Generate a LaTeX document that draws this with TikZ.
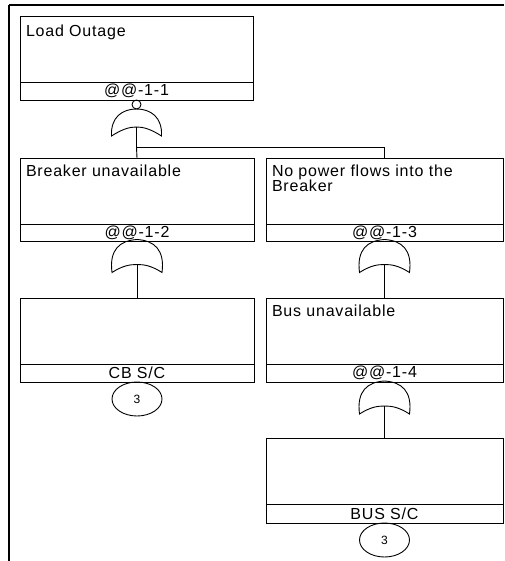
\documentclass[tikz,border=0pt]{standalone}
\usepackage{fontspec}
\setmainfont{Liberation Sans}[LetterSpace=5]
\usetikzlibrary{shapes.geometric}
\begin{document}
\begin{tikzpicture}[x=1pt,y=-1pt,
  every node/.style={inner sep=0pt,outer sep=0pt},
  line/.style={line width=0.9pt},
  evbox/.style={draw,line width=0.9pt,anchor=north west,minimum width=234pt,minimum height=66pt},
  evboxr/.style={evbox,minimum width=237pt},
  strip/.style={draw,line width=0.9pt,anchor=north west,minimum width=234pt,minimum height=18pt,
    font=\fontsize{16}{16}\selectfont},
  stripr/.style={strip,minimum width=237pt},
  desc/.style={anchor=north west,align=left,font=\fontsize{16}{15}\selectfont},
  transfer/.style={draw,ellipse,line width=0.9pt,minimum width=50pt,minimum height=34pt,
    font=\fontsize{12}{12}\selectfont}]
\useasboundingbox (0,0) rectangle (504,561);
% page frame
\draw[line width=2pt] (9,5) -- (504,5);
\draw[line width=1.3pt] (9,5) -- (9,561);

% OR gate symbol, apex at the origin
\tikzset{pics/orgate/.style={code={
  \draw[line width=0.9pt] (-25,33) .. controls (-28,10) and (-17,1) .. (0,0)
     .. controls (17,1) and (28,10) .. (25,33)
     .. controls (14,26) and (7,25) .. (0,25)
     .. controls (-7,25) and (-14,26) .. (-25,33) -- cycle;
  \coordinate (-in) at (0,25);}},
  pics/orgateflat/.style={code={
  \draw[line width=0.9pt] (-25,27) .. controls (-26,8) and (-14,0) .. (0,0)
     .. controls (14,0) and (26,8) .. (25,27)
     .. controls (14,20) and (7,18) .. (0,18)
     .. controls (-7,18) and (-14,20) .. (-25,27) -- cycle;
  \coordinate (-in) at (0,18);}}}

% events
\node[evbox,minimum width=233pt] (e1) at (20,16) {};
\node[strip,minimum width=233pt] (s1) at (20,82) {@@-1-1};
\node[desc] (t1) at (26,24.5) {Load Outage};

\node[evbox] (e2) at (20,158) {};
\node[strip,minimum height=17pt] (s2) at (20,224) {@@-1-2};
\node[desc] (t2) at (26,164.5) {Breaker unavailable};

\node[evboxr] (e3) at (266,158) {};
\node[stripr,minimum height=17pt] (s3) at (266,224) {@@-1-3};
\node[desc] (t3) at (272,164.5) {No power flows into the\\Breaker};

\node[evbox] (e4) at (20,298) {};
\node[strip] (s4) at (20,364) {CB S/C};

\node[evboxr] (e5) at (266,298) {};
\node[stripr] (s5) at (266,364) {@@-1-4};
\node[desc] (t5) at (272,304.5) {Bus unavailable};

\node[evboxr] (e6) at (266,438) {};
\node[stripr,minimum height=19pt] (s6) at (266,504) {BUS S/C};

% transfer symbols
\node[transfer,anchor=north] (c4) at (s4.south) {3};
\node[transfer,anchor=north] (c6) at (s6.south) {3};

% gates
\node[draw,circle,line width=0.9pt,minimum size=9pt,anchor=north] (b1) at (s1.south) {};
\pic (g1) at (b1.south) {orgateflat};
\pic (g2) at ([yshift=1.5pt]s2.south) {orgate};
\pic (g3) at ([yshift=1.5pt]s3.south) {orgate};
\pic (g4) at ([yshift=1pt]s5.south) {orgate};

% connectors
\coordinate (bus) at (0,147.5);
\draw[line] (g1-in) -- (g1-in |- bus) -| (e3.north);
\draw[line] (g1-in |- bus) -- (e2.north);
\draw[line] (g2-in) -- (e4.north);
\draw[line] (g3-in) -- (e5.north);
\draw[line] (g4-in) -- (e6.north);
\end{tikzpicture}
\end{document}
